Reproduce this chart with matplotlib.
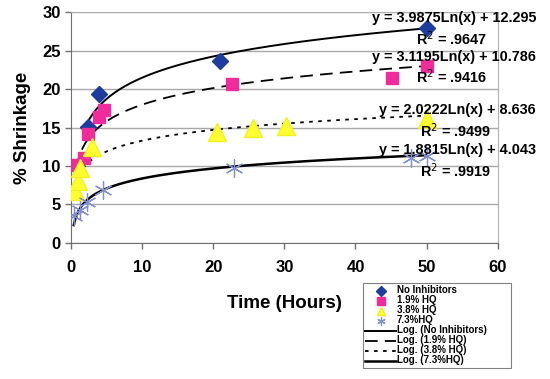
import numpy as np
import matplotlib
matplotlib.use("Agg")
import matplotlib.pyplot as plt
from matplotlib.lines import Line2D

plt.rcParams['font.family'] = ['Liberation Sans', 'DejaVu Sans']

# Data
series_names = ["No Inhibitors", "1.9% HQ", "3.8% HQ", "7.3%HQ"]
x_none = [2.4, 4.0, 20.9, 50.0]
y_none = [15.1, 19.3, 23.7, 28.0]
x_19 = [0.7, 1.9, 2.4, 3.9, 4.6, 22.7, 45.1, 50.0]
y_19 = [10.1, 11.0, 14.1, 16.4, 17.3, 20.6, 21.4, 23.0]
x_38 = [0.6, 1.0, 1.3, 3.0, 20.5, 25.6, 30.2, 50.0]
y_38 = [6.8, 8.0, 9.7, 12.5, 14.4, 15.0, 15.2, 16.1]
x_73 = [0.4, 1.3, 2.3, 4.5, 22.9, 47.8, 50.0]
y_73 = [3.5, 4.3, 5.3, 6.9, 9.7, 11.1, 11.3]

# Logarithmic trendline coefficients: y = a*ln(x) + b
coef_a = [3.9875, 3.1195, 2.0222, 1.8815]
coef_b = [12.295, 10.786, 8.636, 4.043]
eq_labels = ["y = 3.9875Ln(x) + 12.295", "y = 3.1195Ln(x) + 10.786",
             "y = 2.0222Ln(x) + 8.636", "y = 1.8815Ln(x) + 4.043"]
r2_labels = ["R$^2$ = .9647", "R$^2$ = .9416", "R$^2$ = .9499", "R$^2$ = .9919"]
trend_names = ["Log. (No Inhibitors)", "Log. (1.9% HQ)", "Log. (3.8% HQ)", "Log. (7.3%HQ)"]

xs = [x_none, x_19, x_38, x_73]
ys = [y_none, y_19, y_38, y_73]

fig = plt.figure(figsize=(5.5, 3.79), dpi=100)
ax = fig.add_axes([0.129, 0.359, 0.776, 0.609])

marker_styles = [
    dict(marker='D', color='#1E3C9E', markersize=8, markeredgecolor='#1E3C9E'),
    dict(marker='s', color='#F02C9C', markersize=8, markeredgecolor='#F02C9C'),
    dict(marker='^', color='#FFFF30', markersize=13, markeredgecolor='#F4F020'),
    dict(marker=(6, 2, 0), color='#7F8FD0', markersize=13, markeredgecolor='#7F8FD0', markeredgewidth=0.9),
]
legend_sizes = [5, 5.5, 6, 6]
line_styles = [
    dict(color='black', lw=1.4, ls='-'),
    dict(color='black', lw=1.3, ls=(0, (7, 4))),
    dict(color='black', lw=1.3, ls=(0, (2, 3))),
    dict(color='black', lw=1.8, ls='-'),
]

# trendlines first
for i in range(4):
    xx = np.linspace(min(xs[i]), max(xs[i]), 300)
    ax.plot(xx, coef_a[i] * np.log(xx) + coef_b[i], zorder=3, **line_styles[i])
for i in range(4):
    ax.plot(xs[i], ys[i], ls='none', zorder=4, **marker_styles[i])

ax.set_xlim(0, 60)
ax.set_ylim(0, 30)
ax.set_xticks(range(0, 61, 10))
ax.set_yticks(range(0, 31, 5))
ax.yaxis.grid(True, color='#A8A8A8', lw=1.0)
ax.set_axisbelow(True)
for s in ['left', 'bottom']:
    ax.spines[s].set_color('#707070')
for s in ['right', 'top']:
    ax.spines[s].set_color('#B0B0B0')
ax.tick_params(axis='both', which='major', labelsize=12, direction='out', length=4,
               color='#707070', width=1.0)
ax.tick_params(axis='x', pad=8)
for lbl in ax.get_xticklabels() + ax.get_yticklabels():
    lbl.set_fontweight('bold')

ax.set_ylabel('% Shrinkage', fontsize=13.5, fontweight='bold', labelpad=8)
fig.text(0.518, 1 - 303 / 379, 'Time (Hours)', fontsize=13.5, fontweight='bold',
         ha='center', va='center')

# equation labels (figure pixel coordinates from top)
eq_pos = [(536, 18), (536, 57), (536, 110), (536, 150)]
r2_pos = [(487, 39), (487, 77), (491, 131), (491, 171)]
for i in range(4):
    fig.text(eq_pos[i][0] / 550, 1 - eq_pos[i][1] / 379, eq_labels[i], fontsize=10.4,
             fontweight='bold', ha='right', va='center')
    fig.text(r2_pos[i][0] / 550, 1 - r2_pos[i][1] / 379, r2_labels[i], fontsize=10.4,
             fontweight='bold', ha='right', va='center')

# legend
handles = []
for i in range(4):
    ms = dict(marker_styles[i])
    ms['markersize'] = legend_sizes[i]
    handles.append(Line2D([], [], ls='none', **ms))
for i in range(4):
    handles.append(Line2D([], [], **line_styles[i]))
labels = series_names + trend_names
leg = fig.legend(handles, labels, loc='upper left',
                 bbox_to_anchor=(363 / 550, 1 - 364 / 379, 148 / 550, 81 / 379),
                 mode='expand',
                 prop={'weight': 'bold', 'size': 7.0}, frameon=True, fancybox=False,
                 edgecolor='#606060', handlelength=3.1, handleheight=0.3, handletextpad=0.15,
                 labelspacing=0.0, borderpad=0.25, borderaxespad=0)
leg.get_frame().set_linewidth(0.8)

fig.savefig('out.png', dpi=100)
